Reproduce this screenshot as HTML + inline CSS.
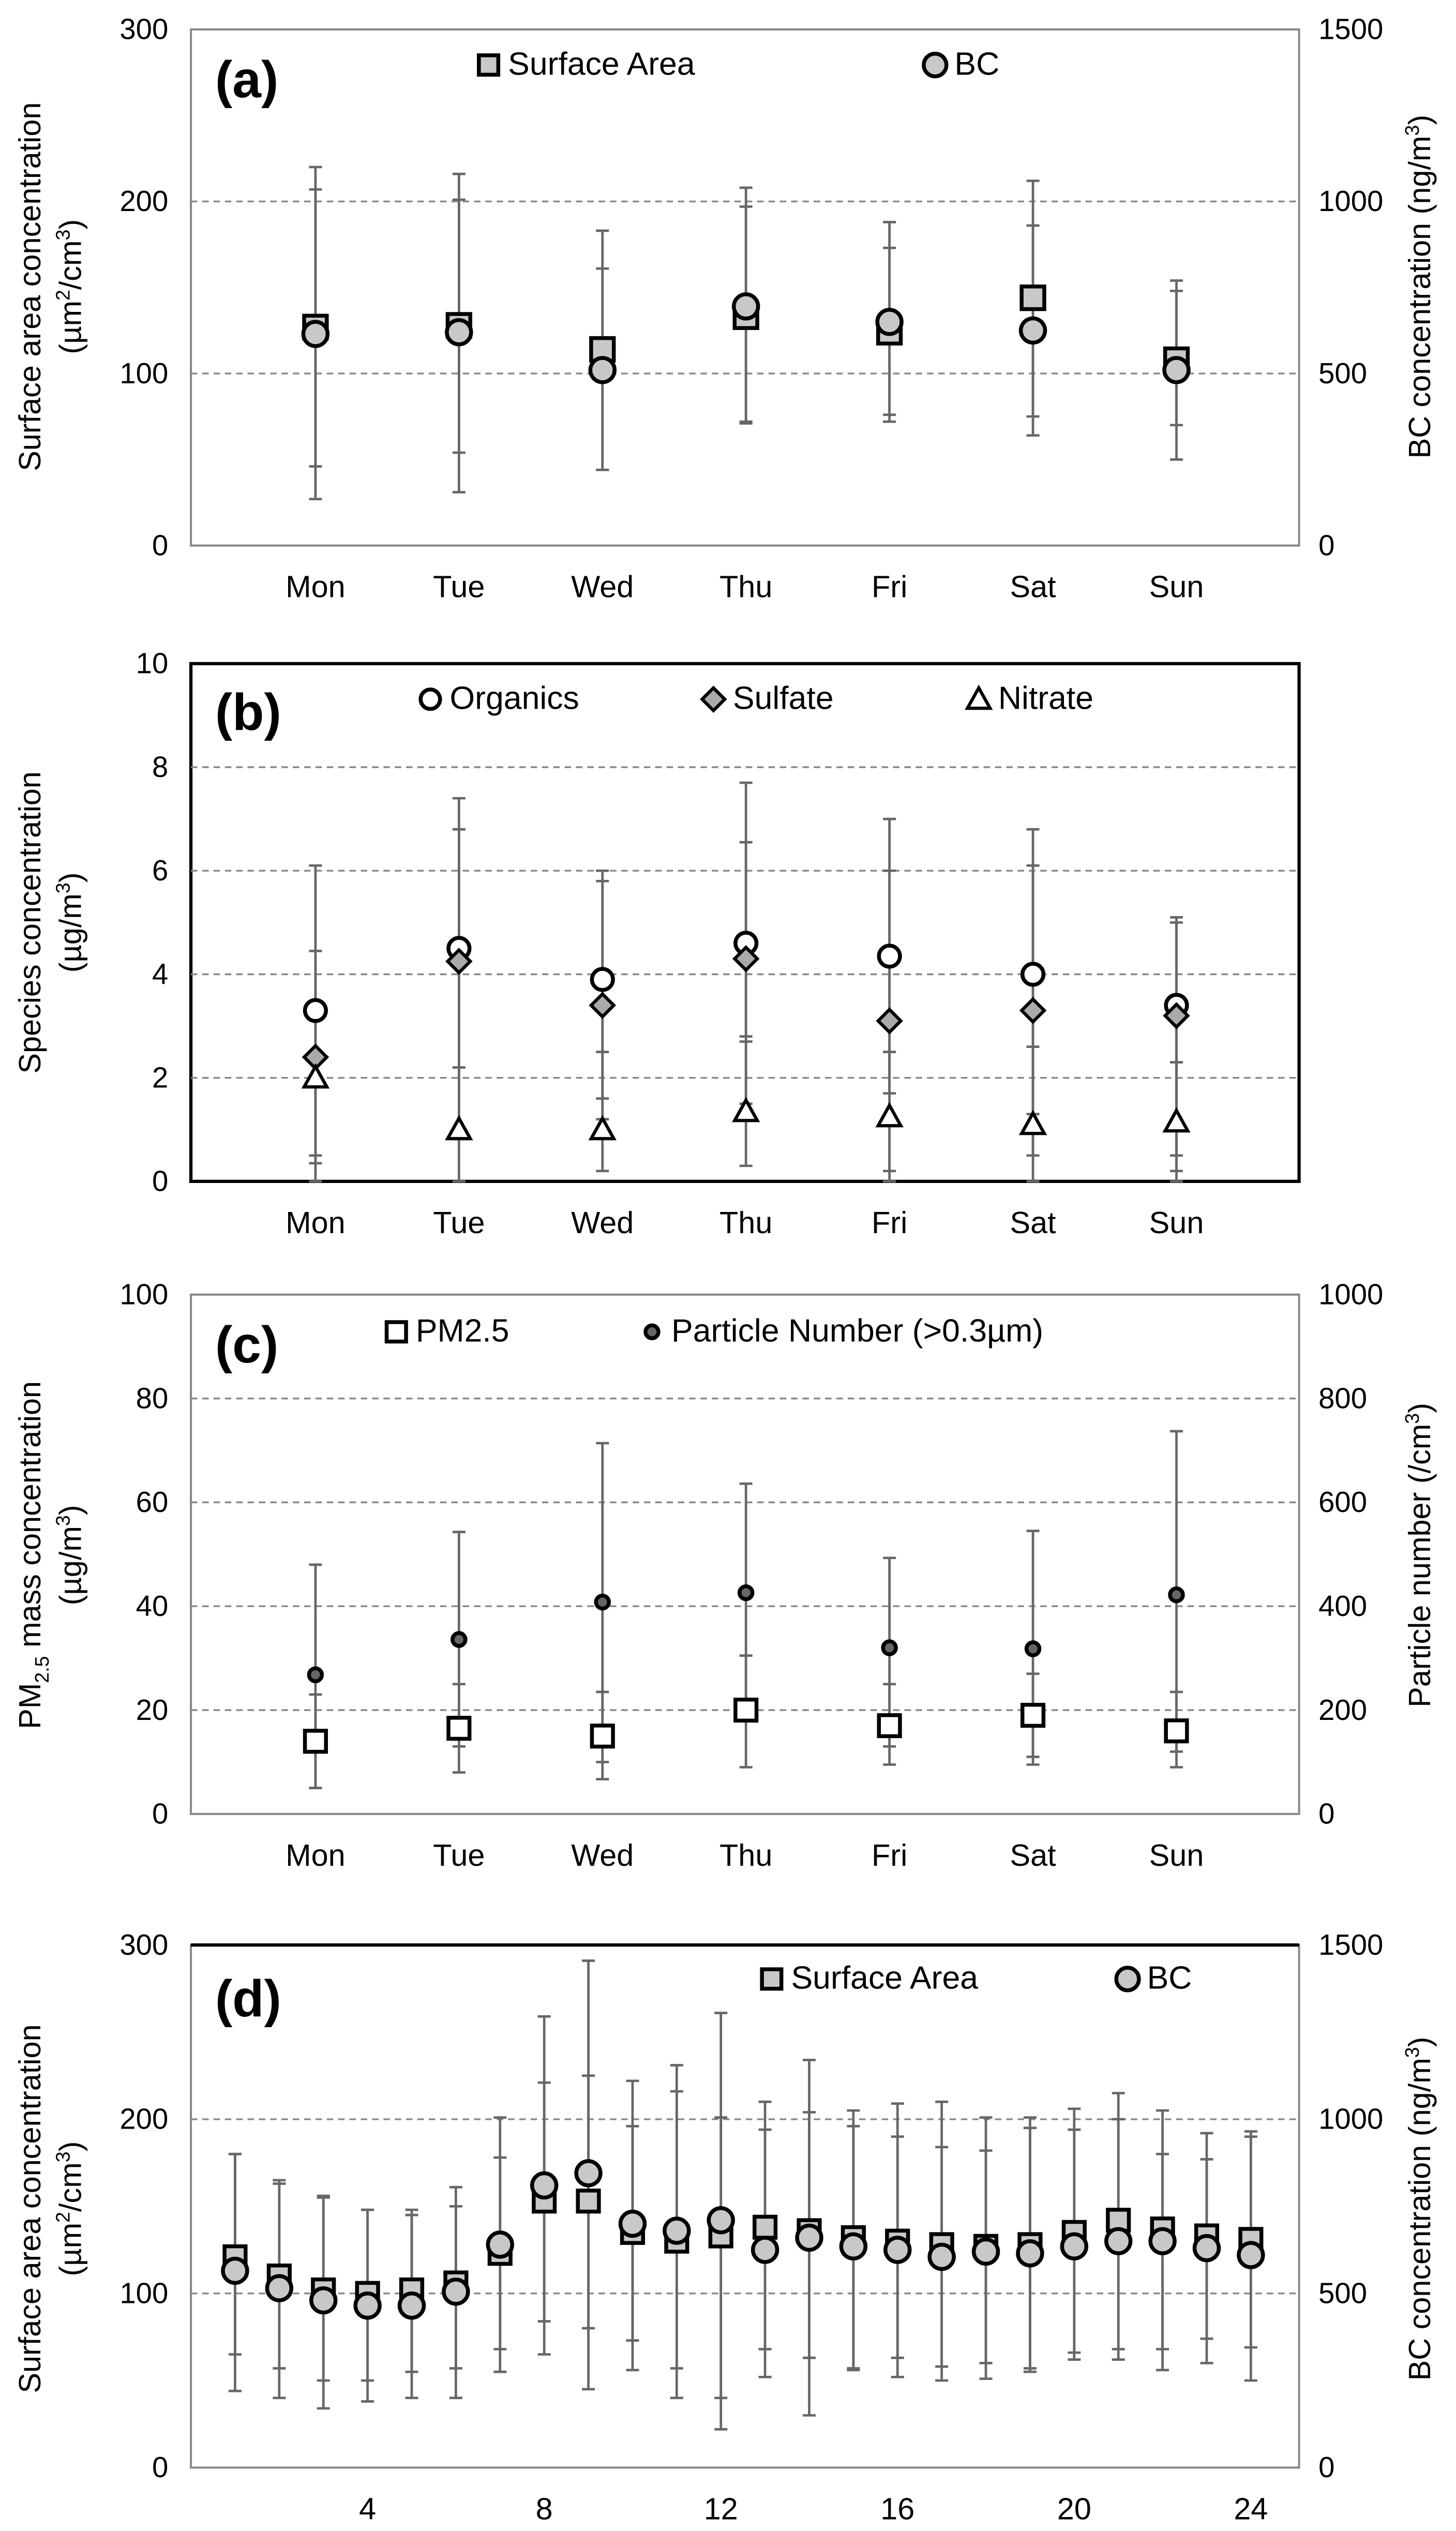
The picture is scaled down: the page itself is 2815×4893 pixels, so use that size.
<!DOCTYPE html>
<html><head><meta charset="utf-8"><style>
html,body{margin:0;padding:0;background:#fff}
svg{display:block}
text{font-family:"Liberation Sans",sans-serif;fill:#000}
</style></head><body>
<svg id="chart" xmlns="http://www.w3.org/2000/svg" width="2815" height="4893" viewBox="0 0 900 1564"></svg>
<script>
// ---- data ----
const days = ["Mon","Tue","Wed","Thu","Fri","Sat","Sun"];
// panel a
const aSA = [127,128,114,133,124,144,108];
const aSALo = [46,54,44,72,76,75,70];
const aSAHi = [207,201,161,197,173,186,148];
const aBC = [615,620,510,695,650,625,510];
const aBCLo = [135,155,220,355,360,320,250];
const aBCHi = [1100,1080,915,1040,940,1060,770];
// panel b
const bOrg = [3.3,4.5,3.9,4.6,4.35,4.0,3.4];
const bOrgLo = [0.5,1.0,1.6,1.5,1.7,1.3,0.5];
const bOrgHi = [6.1,7.4,6.0,7.7,7.0,6.8,5.1];
const bSul = [2.4,4.25,3.4,4.3,3.1,3.3,3.2];
const bSulLo = [0.35,2.2,1.2,2.8,0.2,0.5,0.2];
const bSulHi = [4.45,6.8,5.8,6.55,6.0,6.1,5.0];
const bNit = [2.0,1.0,1.0,1.35,1.25,1.1,1.15];
const bNitLo = [0,0,0.2,0.3,0,0,0];
const bNitHi = [2.0,2.2,2.5,2.7,2.5,2.6,2.3];
// panel c
const cPM = [14,16.5,15,20,17,19,16];
const cPMLo = [5,8,6.7,9,9.5,9.5,9];
const cPMHi = [23,25,23.5,30.5,25,27,23.5];
const cPN = [268,336,408,426,320,318,422];
const cPNLo = [50,130,100,200,130,110,120];
const cPNHi = [480,543,714,636,493,545,737];
// panel d
const hours = [1,2,3,4,5,6,7,8,9,10,11,12,13,14,15,16,17,18,19,20,21,22,23,24];
const dSA = [121,110,102,100,102,106,123,153,153,135,130,133,138,136,132,130,128,127,128,135,142,137,133,131];
const dSAHi = [180,165,156,148,148,161,201,259,291,222,231,261,210,234,205,209,210,201,201,206,215,205,192,193];
const dSALo = [65,57,50,50,55,57,68,84,80,73,57,40,68,63,57,63,58,60,57,66,68,68,74,69];
const dBC = [565,515,480,465,465,505,640,810,845,700,680,710,625,660,635,625,605,620,615,635,650,650,630,610];
const dBCHi = [900,815,775,740,725,750,890,1105,1125,980,1080,1005,970,1020,980,950,920,910,975,970,1000,900,885,950];
const dBCLo = [220,200,170,190,200,200,275,325,225,280,200,110,260,150,280,260,250,255,275,310,310,280,300,250];
const tickD = [4,8,12,16,20,24];

const NS="http://www.w3.org/2000/svg";
const svg=document.getElementById('chart');
function el(tag,attrs,parent,txt){const e=document.createElementNS(NS,tag);for(const k in attrs)e.setAttribute(k,attrs[k]);if(txt!==undefined)e.textContent=txt;(parent||svg).appendChild(e);return e;}

const L=118,R=803;
function catX(i){return 195+88.7*i;}
function hourX(h){return 118+27.3*h;}
function yScale(top,bot,max){return v=>bot-(v/max)*(bot-top);}

function frame(name,top,bot,thick){
  const g=el('g',{});
  
  
  el('rect',{x:L,y:top,width:R-L,height:bot-top,fill:'none',stroke:thick?'#000':'#888','stroke-width':thick?2:1.3},g);
  return g;
}
function grid(g,ys){ys.forEach(y=>{const l=el('line',{x1:L,x2:R,y1:y,y2:y,stroke:'#888','stroke-width':1.1,'stroke-dasharray':'4,3'},g);
  
  });}
function ticksLeft(g,vals,ys){vals.forEach((v,i)=>{const t=el('text',{x:104,y:ys[i]+6,'text-anchor':'end','font-size':18},g,v);
  
  });}
function ticksRight(g,vals,ys){vals.forEach((v,i)=>{const t=el('text',{x:815,y:ys[i]+6,'font-size':18},g,v);
  
  });}
function xLabels(g,labels,xs,y){labels.forEach((v,i)=>{const t=el('text',{x:xs[i],y:y,'text-anchor':'middle','font-size':19},g,v);
  
  });}
function vtitle(g,x,cy,lines,name){const t=el('text',{transform:`translate(${x},${cy}) rotate(-90)`,'text-anchor':'middle','font-size':19},g);
  
  
  lines.forEach((ln,i)=>{const s=el('tspan',{x:0,dy:i?25:0},t);s.innerHTML=ln;});}
function errbar(g,x,y1,y2,cap){const e=el('g',{},g);
  
  
  el('line',{x1:x,x2:x,y1:y1,y2:y2,stroke:'#666','stroke-width':1.5},e);
  [y1,y2].forEach(y=>el('line',{x1:x-cap,x2:x+cap,y1:y,y2:y,stroke:'#666','stroke-width':1.5},e));}
function marker(g,type,x,y,fill,size,name){let m;
  if(type==='sq')m=el('rect',{x:x-size,y:y-size,width:2*size,height:2*size,fill:fill,stroke:'#000','stroke-width':2.4},g);
  else if(type==='ci')m=el('circle',{cx:x,cy:y,r:size,fill:fill,stroke:'#000','stroke-width':2.4},g);
  else if(type==='di')m=el('polygon',{points:`${x},${y-size} ${x+size},${y} ${x},${y+size} ${x-size},${y}`,fill:fill,stroke:'#000','stroke-width':2},g);
  else if(type==='tr')m=el('polygon',{points:`${x},${y-size} ${x+size},${y+size*0.8} ${x-size},${y+size*0.8}`,fill:fill,stroke:'#000','stroke-width':2},g);
  
  
  return m;}
function legend(g,items){items.forEach(it=>{const lg=el('g',{},g);
  
  
  marker(lg,it.t,it.x,it.y-6,it.f,it.s,'legend-marker');
  el('text',{x:it.x+12,y:it.y,'font-size':20},lg,it.l);});}
function plabel(g,x,y,s){const t=el('text',{x:x,y:y,'font-size':32,'font-weight':'bold'},g,s);
  
  }

// ---- Panel A ----
(function(){const top=18,bot=337;const y=yScale(top,bot,300),y2=yScale(top,bot,1500);
 const g=frame('panel-a',top,bot,false);grid(g,[y(100),y(200)]);
 ticksLeft(g,[0,100,200,300],[0,100,200,300].map(y));
 ticksRight(g,[0,500,1000,1500],[0,500,1000,1500].map(y2));
 xLabels(g,days,days.map((d,i)=>catX(i)),369);
 vtitle(g,25,177,['Surface area concentration','(µm<tspan font-size="12" dy="-7">2</tspan><tspan dy="7">/cm</tspan><tspan font-size="12" dy="-7">3</tspan><tspan dy="7">)</tspan>'],'y-axis-title');
 vtitle(g,884,177,['BC concentration (ng/m<tspan font-size="12" dy="-7">3</tspan><tspan dy="7">)</tspan>'],'y2-axis-title');
 days.forEach((d,i)=>{const x=catX(i);errbar(g,x,y(aSAHi[i]),y(aSALo[i]),4);errbar(g,x,y2(aBCHi[i]),y2(aBCLo[i]),4);});
 days.forEach((d,i)=>{const x=catX(i);marker(g,'sq',x,y(aSA[i]),'#c8c8c8',7,'sa-point');marker(g,'ci',x,y2(aBC[i]),'#c8c8c8',7.5,'bc-point');});
 plabel(g,133,60,'(a)');
 legend(g,[{t:'sq',x:302,y:46,f:'#c8c8c8',s:6,l:'Surface Area'},{t:'ci',x:578,y:46,f:'#c8c8c8',s:7,l:'BC'}]);
})();
// ---- Panel B ----
(function(){const top=410,bot=730;const y=yScale(top,bot,10);
 const g=frame('panel-b',top,bot,true);grid(g,[2,4,6,8].map(y));
 ticksLeft(g,[0,2,4,6,8,10],[0,2,4,6,8,10].map(y));
 xLabels(g,days,days.map((d,i)=>catX(i)),762);
 vtitle(g,25,570,['Species concentration','(µg/m<tspan font-size="12" dy="-7">3</tspan><tspan dy="7">)</tspan>'],'y-axis-title');
 days.forEach((d,i)=>{const x=catX(i);errbar(g,x,y(bOrgHi[i]),y(bOrgLo[i]),4);errbar(g,x,y(bSulHi[i]),y(bSulLo[i]),4);errbar(g,x,y(bNitHi[i]),y(bNitLo[i]),4);});
 days.forEach((d,i)=>{const x=catX(i);marker(g,'ci',x,y(bOrg[i]),'#fff',6.5,'organics-point');marker(g,'di',x,y(bSul[i]),'#aaa',7,'sulfate-point');marker(g,'tr',x,y(bNit[i]),'#fff',7,'nitrate-point');});
 plabel(g,133,451,'(b)');
 legend(g,[{t:'ci',x:266,y:438,f:'#fff',s:6,l:'Organics'},{t:'di',x:441,y:438,f:'#aaa',s:7,l:'Sulfate'},{t:'tr',x:605,y:438,f:'#fff',s:7,l:'Nitrate'}]);
})();
// ---- Panel C ----
(function(){const top=800,bot=1121;const y=yScale(top,bot,100),y2=yScale(top,bot,1000);
 const g=frame('panel-c',top,bot,false);grid(g,[20,40,60,80].map(y));
 ticksLeft(g,[0,20,40,60,80,100],[0,20,40,60,80,100].map(y));
 ticksRight(g,[0,200,400,600,800,1000],[0,200,400,600,800,1000].map(y2));
 xLabels(g,days,days.map((d,i)=>catX(i)),1153);
 vtitle(g,25,961,['PM<tspan font-size="12" dy="5">2.5</tspan><tspan dy="-5"> mass concentration</tspan>','(µg/m<tspan font-size="12" dy="-7">3</tspan><tspan dy="7">)</tspan>'],'y-axis-title');
 vtitle(g,884,961,['Particle number  (/cm<tspan font-size="12" dy="-7">3</tspan><tspan dy="7">)</tspan>'],'y2-axis-title');
 days.forEach((d,i)=>{const x=catX(i);errbar(g,x,y(cPMHi[i]),y(cPMLo[i]),4);errbar(g,x,y2(cPNHi[i]),y2(cPNLo[i]),4);});
 days.forEach((d,i)=>{const x=catX(i);marker(g,'sq',x,y(cPM[i]),'#fff',6.5,'pm25-point');marker(g,'ci',x,y2(cPN[i]),'#666',4,'particle-number-point');});
 plabel(g,133,842,'(c)');
 legend(g,[{t:'sq',x:245,y:829,f:'#fff',s:6,l:'PM2.5'},{t:'ci',x:403,y:829,f:'#666',s:4,l:'Particle Number (>0.3µm)'}]);
})();
// ---- Panel D ----
(function(){const top=1202,bot=1525;const y=yScale(top,bot,300),y2=yScale(top,bot,1500);
 const g=frame('panel-d',top,bot,false);
 el('line',{x1:L,x2:R,y1:top,y2:top,stroke:'#000','stroke-width':2},g);
 grid(g,[y(100),y(200)]);
 ticksLeft(g,[0,100,200,300],[0,100,200,300].map(y));
 ticksRight(g,[0,500,1000,1500],[0,500,1000,1500].map(y2));
 xLabels(g,tickD,tickD.map(hourX),1557);
 vtitle(g,25,1365,['Surface area concentration','(µm<tspan font-size="12" dy="-7">2</tspan><tspan dy="7">/cm</tspan><tspan font-size="12" dy="-7">3</tspan><tspan dy="7">)</tspan>'],'y-axis-title');
 vtitle(g,884,1365,['BC concentration (ng/m<tspan font-size="12" dy="-7">3</tspan><tspan dy="7">)</tspan>'],'y2-axis-title');
 hours.forEach((h,i)=>{const x=hourX(h);errbar(g,x,y(dSAHi[i]),y(dSALo[i]),4);errbar(g,x,y2(dBCHi[i]),y2(dBCLo[i]),4);});
 hours.forEach((h,i)=>{const x=hourX(h);marker(g,'sq',x,y(dSA[i]),'#c8c8c8',6.5,'sa-point');marker(g,'ci',x,y2(dBC[i]),'#c8c8c8',7.5,'bc-point');});
 plabel(g,133,1246,'(d)');
 legend(g,[{t:'sq',x:477,y:1229,f:'#c8c8c8',s:6,l:'Surface Area'},{t:'ci',x:697,y:1229,f:'#c8c8c8',s:7,l:'BC'}]);
})();
</script>
</body></html>
